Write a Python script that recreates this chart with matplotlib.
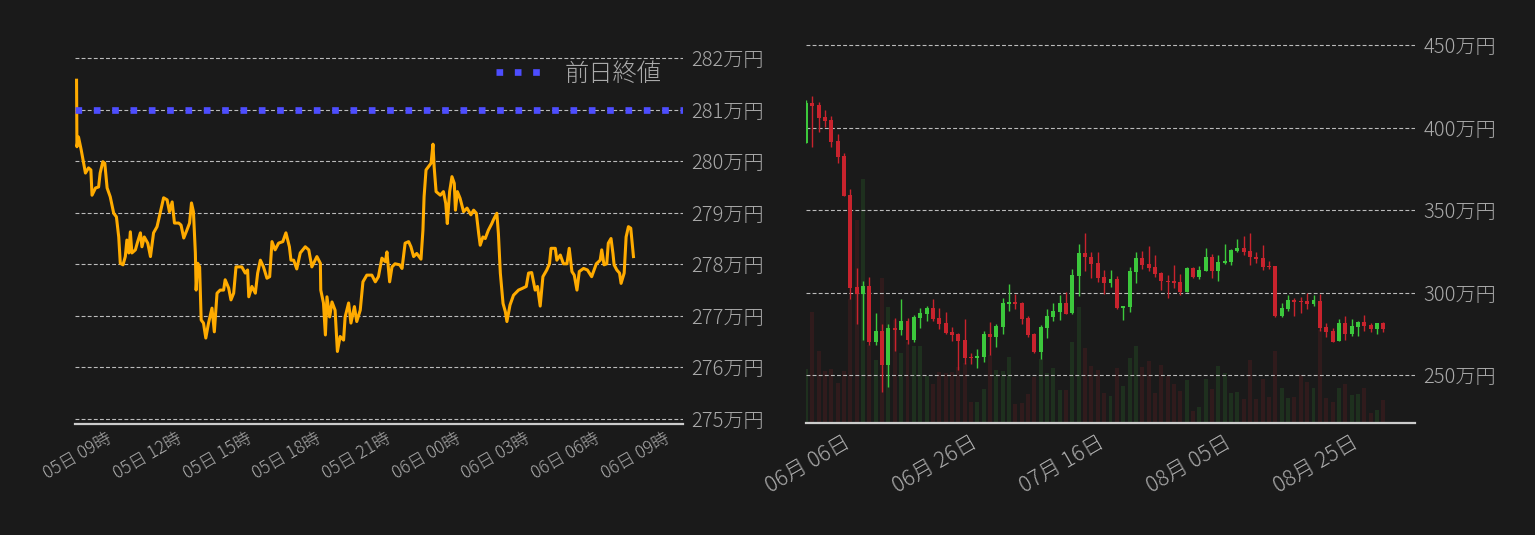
import numpy as np
import pandas as pd
import matplotlib
matplotlib.use("Agg")
import matplotlib.pyplot as plt
import matplotlib.dates as mdates
import matplotlib.transforms as mtransforms
from matplotlib.ticker import FuncFormatter, MultipleLocator

plt.rcParams['font.family'] = ['Noto Sans CJK JP', 'DejaVu Sans']
plt.rcParams['font.weight'] = 'light'

# --- intraday price (万円), minutes after 2022-09-05 07:30 ---
intraday_start = pd.Timestamp('2022-09-05 07:30')
intraday_min = [0, 1, 5, 12, 17, 23, 31, 37, 40, 49, 57, 61, 68, 73, 79, 87, 96, 103, 109, 113,
                120, 126, 130, 135, 139, 143, 152, 158, 165, 169, 175, 184, 191, 199, 208, 216, 225, 234, 240, 247,
                253, 264, 270, 277, 285, 292, 297, 302, 307, 309, 313, 318, 322, 328, 334, 341, 350, 356, 363, 371,
                380, 384, 393, 399, 406, 412, 427, 436, 442, 445, 453, 462, 468, 475, 483, 492, 499, 505, 513, 522,
                533, 541, 550, 554, 561, 569, 578, 591, 600, 608, 621, 630, 631, 638, 643, 647, 654, 660, 668, 674,
                681, 690, 694, 703, 709, 718, 724, 733, 740, 750, 763, 772, 780, 789, 798, 802, 809, 815, 823, 835,
                841, 849, 858, 864, 871, 879, 890, 895, 898, 903, 909, 916, 921, 924, 929, 940, 948, 954, 958, 964,
                970, 976, 979, 984, 991, 1000, 1009, 1019, 1026, 1033, 1039, 1043, 1050, 1056, 1064, 1073, 1077, 1086, 1090, 1095,
                1102, 1108, 1112, 1120, 1129, 1142, 1151, 1162, 1168, 1176, 1185, 1191, 1198, 1205, 1215, 1222, 1226, 1237, 1241, 1250,
                1258, 1267, 1273, 1280, 1286, 1293, 1299, 1310, 1320, 1331, 1343, 1353, 1357, 1363, 1370, 1374, 1381, 1386, 1389, 1396,
                1403, 1407, 1415, 1420, 1426, 1432, 1439]
intraday_price = [281.57, 280.28, 280.47, 280.22, 280.02, 279.77, 279.87, 279.83, 279.34, 279.48, 279.50, 279.77, 279.99, 279.96, 279.48, 279.31, 278.99, 278.92, 278.53, 278.02,
                  277.99, 278.15, 278.47, 278.22, 278.63, 278.22, 278.28, 278.44, 278.61, 278.34, 278.53, 278.41, 278.15, 278.61, 278.73, 278.99, 279.29, 279.25, 279.02, 279.21,
                  278.80, 278.80, 278.76, 278.51, 278.66, 278.80, 279.19, 279.02, 278.22, 277.50, 278.02, 277.95, 276.92, 276.86, 276.57, 276.86, 277.15, 276.69, 277.44, 277.50,
                  277.50, 277.70, 277.54, 277.31, 277.44, 277.95, 277.95, 277.83, 277.89, 277.37, 277.57, 277.44, 277.83, 278.08, 277.95, 277.73, 277.76, 278.44, 278.28, 278.41,
                  278.44, 278.61, 278.34, 278.08, 278.08, 277.91, 278.22, 278.34, 278.28, 277.95, 278.15, 278.02, 277.50, 277.25, 276.63, 277.37, 276.98, 277.27, 277.11, 276.31,
                  276.60, 276.53, 276.98, 277.25, 276.86, 277.18, 276.89, 277.11, 277.66, 277.79, 277.79, 277.66, 277.76, 278.12, 278.05, 278.24, 277.66, 277.95, 278.01, 277.99,
                  277.92, 278.41, 278.44, 278.34, 278.15, 278.21, 278.10, 278.66, 279.31, 279.83, 279.89, 279.96, 280.33, 279.89, 279.41, 279.34, 279.41, 279.18, 278.79, 279.41,
                  279.70, 279.57, 279.05, 279.41, 279.28, 279.02, 279.09, 278.96, 279.05, 278.99, 278.60, 278.37, 278.53, 278.50, 278.66, 278.79, 278.86, 278.99, 278.60, 277.83,
                  277.24, 277.08, 276.89, 277.21, 277.40, 277.50, 277.53, 277.57, 277.83, 277.84, 277.50, 277.57, 277.19, 277.76, 277.89, 278.01, 278.31, 278.31, 278.08, 278.18,
                  278.01, 278.01, 278.31, 277.86, 277.79, 277.50, 277.86, 277.92, 277.89, 277.76, 278.01, 278.08, 278.28, 277.99, 278.01, 278.41, 278.50, 278.21, 277.99, 277.89,
                  277.83, 277.63, 277.83, 278.53, 278.73, 278.70, 278.15]
prev_close = 281.0

# --- daily candles (万円) from 2022-05-30 ---
daily_start = pd.Timestamp('2022-05-30')
day_open = [390.8, 415.1, 413.6, 406.4, 404.6, 391.8, 382.7, 359.1, 303.4, 299.3,
            304.0, 270.2, 276.7, 256.1, 278.5, 277.3, 282.7, 271.2, 284.6, 287.0,
            290.6, 284.6, 281.5, 276.1, 274.9, 271.2, 261.1, 260.3, 261.1, 274.9,
            273.0, 279.1, 292.9, 294.1, 293.7, 284.6, 274.9, 264.0, 278.5, 285.2,
            288.2, 293.7, 287.6, 310.0, 323.9, 321.5, 317.9, 309.4, 305.8, 308.2,
            290.6, 291.2, 312.4, 320.9, 317.3, 315.4, 311.8, 307.1, 306.9, 306.3,
            300.3, 314.8, 309.4, 313.0, 321.5, 313.0, 317.9, 318.5, 325.1, 327.0,
            325.1, 321.5, 320.9, 316.1, 316.1, 285.7, 290.0, 295.8, 295.0, 294.8,
            293.0, 294.8, 279.1, 276.6, 270.6, 281.5, 274.8, 279.1, 282.1, 280.3,
            277.9, 281.5]
day_high = [416.7, 419.1, 415.5, 410.6, 407.0, 396.1, 384.4, 362.7, 314.9, 307.0,
            309.4, 287.6, 280.9, 281.3, 284.8, 296.1, 284.6, 286.4, 291.0, 291.8,
            296.1, 290.6, 288.2, 279.1, 275.3, 284.0, 263.2, 265.8, 276.7, 282.1,
            280.9, 296.7, 305.2, 299.1, 294.3, 285.8, 275.5, 280.3, 290.0, 293.7,
            298.5, 300.3, 314.3, 329.4, 336.1, 324.6, 324.6, 313.7, 313.7, 310.0,
            291.8, 315.5, 324.6, 325.2, 328.2, 322.7, 312.5, 310.6, 316.7, 311.2,
            315.4, 315.4, 316.1, 327.0, 323.3, 322.7, 329.4, 326.3, 332.4, 334.2,
            336.1, 324.5, 328.8, 319.1, 316.1, 293.6, 298.5, 296.6, 297.3, 299.7,
            298.5, 299.1, 281.5, 278.5, 283.9, 285.7, 283.9, 282.7, 286.3, 281.5,
            281.5, 282.1]
day_low = [390.8, 388.4, 397.5, 400.5, 388.4, 378.7, 358.7, 296.1, 281.1, 271.2,
           268.2, 268.2, 239.9, 242.9, 264.8, 274.3, 268.8, 270.0, 278.5, 282.7,
           282.7, 278.1, 274.9, 270.6, 253.1, 256.7, 256.7, 254.3, 257.9, 262.1,
           267.0, 274.9, 288.8, 290.0, 280.9, 273.0, 263.4, 259.7, 272.4, 282.7,
           283.4, 287.0, 287.0, 297.9, 313.0, 308.8, 306.4, 299.1, 303.4, 290.0,
           283.4, 288.2, 305.8, 314.3, 313.0, 309.5, 301.5, 296.7, 302.7, 298.5,
           300.3, 308.8, 308.2, 313.0, 308.8, 306.9, 317.3, 316.7, 324.5, 322.7,
           316.7, 317.9, 313.6, 314.2, 285.3, 285.3, 288.8, 285.7, 287.5, 290.0,
           291.8, 276.9, 273.0, 270.0, 270.6, 271.2, 273.6, 273.6, 276.6, 276.0,
           274.8, 276.0]
day_close = [415.1, 413.0, 406.0, 404.2, 391.4, 382.3, 358.7, 303.0, 299.3, 304.0,
             270.2, 276.7, 256.1, 278.5, 277.3, 282.7, 271.2, 285.2, 287.6, 290.6,
             284.0, 280.9, 275.5, 274.3, 270.6, 260.5, 260.5, 261.5, 274.9, 273.0,
             279.7, 293.7, 294.1, 292.9, 284.0, 274.3, 264.0, 279.1, 285.8, 289.2,
             293.7, 287.0, 310.6, 323.9, 321.5, 317.3, 308.8, 305.8, 308.2, 290.6,
             291.8, 313.0, 320.9, 316.7, 314.9, 311.2, 306.9, 306.5, 305.7, 300.3,
             314.8, 309.4, 313.6, 321.5, 313.0, 318.5, 319.1, 325.7, 327.0, 324.5,
             321.5, 320.3, 315.4, 315.5, 285.7, 290.6, 295.4, 294.2, 294.4, 293.0,
             295.4, 278.5, 276.1, 270.0, 281.5, 274.8, 279.7, 282.1, 279.7, 277.9,
             281.5, 277.9]
day_volume = [5400, 11100, 7200, 5200, 5400, 4000, 5200, 12400, 20300, 24400,
              7800, 6300, 14500, 11600, 10300, 7000, 8100, 7700, 7700, 4700,
              3900, 5100, 5000, 5100, 5600, 6000, 2100, 2100, 3400, 6800,
              5300, 5200, 6600, 1900, 2000, 2900, 4600, 6400, 5000, 5500,
              3300, 3300, 8100, 11600, 7500, 5700, 5300, 3000, 2700, 5500,
              3700, 6500, 7700, 5600, 6200, 3000, 5800, 4700, 3900, 3200,
              4300, 1200, 1600, 4400, 3400, 5700, 5000, 3000, 3100, 2400,
              6300, 2400, 4400, 2600, 7200, 3500, 2500, 2600, 4800, 4100,
              3500, 9300, 2500, 2100, 3500, 3900, 2800, 2900, 3500, 1000,
              1300, 2300]

BG = '#1a1a1a'
TXT = '#aaaaaa'
UP = '#3cc83c'
DOWN = '#c8232d'

man_fmt = FuncFormatter(lambda v, p: f'{v:.0f}万円')


def style_axis(ax):
    ax.set_facecolor(BG)
    for s in ['left', 'top', 'right']:
        ax.spines[s].set_visible(False)
    ax.spines['bottom'].set_color('#cccccc')
    ax.spines['bottom'].set_linewidth(1.6)
    ax.tick_params(length=0, colors=TXT)


fig = plt.figure(figsize=(15.35, 5.35), dpi=100, facecolor=BG)
nudge = mtransforms.ScaledTranslation(4 / 100, 0, fig.dpi_scale_trans)

# ---------- left: intraday ----------
ax1 = fig.add_axes([75 / 1535, 111 / 535, 608 / 1535, 384 / 535])
style_axis(ax1)
times = intraday_start + pd.to_timedelta(intraday_min, unit='min')
ax1.plot(times, intraday_price, color='#ffab00', lw=2.2, zorder=3)
ax1.axhline(prev_close, color='#4d4dff', lw=4.8, linestyle=(0, (1, 1.75)), label='前日終値', zorder=4)
ax1.set_xlim(pd.Timestamp('2022-09-05 07:26'), pd.Timestamp('2022-09-06 09:37'))
ax1.set_ylim(274.903, 282.35)
ax1.yaxis.set_major_locator(MultipleLocator(1))
ax1.yaxis.set_major_formatter(man_fmt)
ax1.yaxis.tick_right()
ax1.tick_params(axis='y', labelsize=14.5, pad=6)
ax1.tick_params(axis='x', labelsize=12.5, pad=4)
ax1.xaxis.set_major_locator(mdates.HourLocator(byhour=range(0, 24, 3)))
ax1.xaxis.set_major_formatter(mdates.DateFormatter('%d日 %H時'))
ax1.grid(axis='y', color='#bbbbbb', lw=0.8, linestyle=(0, (3.5, 2)))
for lab in ax1.get_xticklabels():
    lab.set_rotation(30)
    lab.set_ha('right')
    lab.set_transform(lab.get_transform() + nudge)
leg = ax1.legend(loc='upper right', frameon=False, fontsize=17.5, labelcolor=TXT)

# ---------- right: daily candles ----------
axv = fig.add_axes([806 / 1535, 111.7 / 535, 609 / 1535, 383.3 / 535])
style_axis(axv)
dates = daily_start + pd.to_timedelta(np.arange(len(day_open)), unit='D')
up = np.array(day_close) >= np.array(day_open)
axv.bar(dates, day_volume, width=0.63, color=np.where(up, UP, DOWN), alpha=0.13, zorder=1)
axv.set_ylim(0, 38330)
axv.set_yticks([])

ax2 = axv.twinx()
for s in ax2.spines.values():
    s.set_visible(False)
ax2.tick_params(length=0, colors=TXT)
body_lo = np.minimum(day_open, day_close)
body_h = np.maximum(np.abs(np.array(day_close) - np.array(day_open)), 0.6)
cols = np.where(up, UP, DOWN)
ax2.vlines(dates, day_low, day_high, colors=cols, lw=1.0, zorder=3)
ax2.bar(dates, body_h, bottom=body_lo, width=0.63, color=cols, zorder=4)
ax2.set_ylim(220.9, 453.0)
ax2.yaxis.set_major_locator(MultipleLocator(50))
ax2.yaxis.set_major_formatter(man_fmt)
ax2.tick_params(axis='y', labelsize=14.5, pad=6)
ax2.grid(axis='y', color='#bbbbbb', lw=0.8, linestyle=(0, (3.5, 2)), zorder=2)
ax2.set_axisbelow(False)

axv.set_xlim(daily_start, daily_start + pd.Timedelta(days=96))
axv.set_xticks(pd.date_range('2022-06-06', periods=5, freq='20D'))
axv.xaxis.set_major_formatter(mdates.DateFormatter('%m月 %d日'))
axv.tick_params(axis='x', labelsize=15.5, pad=6)
for lab in axv.get_xticklabels():
    lab.set_rotation(30)
    lab.set_ha('right')
    lab.set_transform(lab.get_transform() + nudge)

fig.savefig('out.png', dpi=100, facecolor=BG)
